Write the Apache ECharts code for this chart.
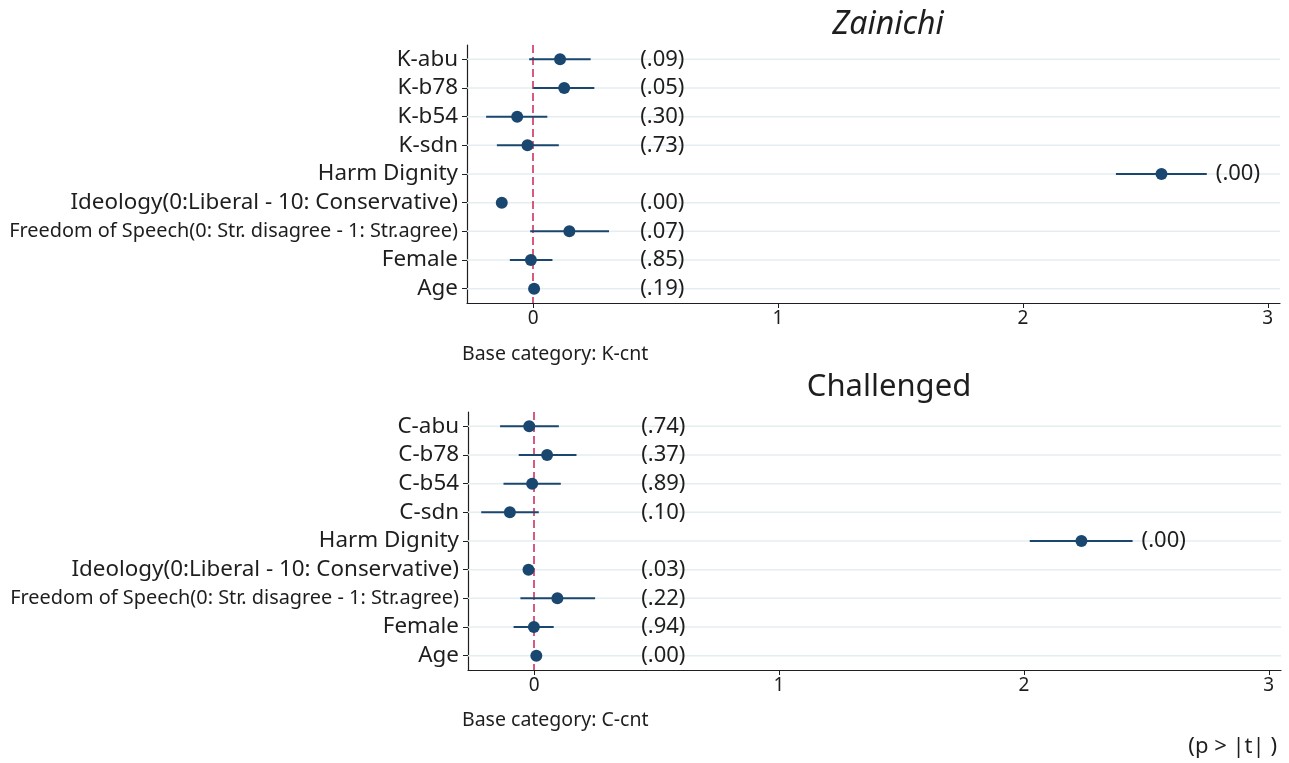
<!DOCTYPE html>
<html>
<head>
<meta charset="utf-8">
<script src="https://cdn.jsdelivr.net/npm/echarts@6/dist/echarts.min.js"></script>
<style>
  html, body { margin: 0; padding: 0; background: #fff; }
  #chart { width: 1289px; height: 763px; }
</style>
</head>
<body>
<div id="chart"></div>
<script>
// Coefficient estimates with 95% intervals and p-values, two models
const zainichiTerms = ['K-abu', 'K-b78', 'K-b54', 'K-sdn', 'Harm Dignity',
  'Ideology(0:Liberal - 10: Conservative)', 'Freedom of Speech(0: Str. disagree - 1: Str.agree)', 'Female', 'Age'];
const zainichiCoef = [0.110, 0.127, -0.065, -0.023, 2.566, -0.128, 0.148, -0.009, 0.004];
const zainichiLow  = [-0.016, 0.001, -0.192, -0.148, 2.380, -0.140, -0.012, -0.095, -0.002];
const zainichiHigh = [0.235, 0.250, 0.058, 0.105, 2.751, -0.116, 0.310, 0.079, 0.010];
const zainichiP    = ['(.09)', '(.05)', '(.30)', '(.73)', '(.00)', '(.00)', '(.07)', '(.85)', '(.19)'];

const challengedTerms = ['C-abu', 'C-b78', 'C-b54', 'C-sdn', 'Harm Dignity',
  'Ideology(0:Liberal - 10: Conservative)', 'Freedom of Speech(0: Str. disagree - 1: Str.agree)', 'Female', 'Age'];
const challengedCoef = [-0.020, 0.053, -0.008, -0.099, 2.235, -0.023, 0.095, -0.001, 0.009];
const challengedLow  = [-0.139, -0.063, -0.125, -0.216, 2.024, -0.033, -0.056, -0.084, 0.005];
const challengedHigh = [0.101, 0.173, 0.109, 0.019, 2.444, -0.013, 0.249, 0.080, 0.013];
const challengedP    = ['(.74)', '(.37)', '(.89)', '(.10)', '(.00)', '(.03)', '(.22)', '(.94)', '(.00)'];

const xTicks = [0, 1, 2, 3];
const pLabelX = 0.437;   // default column for the p-value labels

const FONT = 'Noto Sans';
const NAVY = '#1a476f';
const GRIDLINE = '#e4eef1';
const ZERO = '#cc2455';
const INK = '#1e1e1e';

function panel(idx, terms, coef, low, high, pvals) {
  const rows = terms.map((t, i) => [coef[i], i, low[i], high[i], pvals[i]]);
  return [
    // horizontal guide lines at each row, plus the dashed zero reference
    {
      type: 'custom', xAxisIndex: idx, yAxisIndex: idx, z: 1, silent: true,
      data: rows,
      renderItem(params, api) {
        const cs = params.coordSys;
        const y = api.coord([0, api.value(1)])[1];
        return { type: 'line', shape: { x1: cs.x, y1: y, x2: cs.x + cs.width, y2: y },
          style: { stroke: GRIDLINE, lineWidth: 1.5 } };
      },
      markLine: {
        silent: true, symbol: 'none', z: 3,
        label: { show: false },
        lineStyle: { color: ZERO, type: [8, 4], width: 1.5 },
        data: [{ xAxis: 0 }]
      }
    },
    // confidence intervals
    {
      type: 'custom', xAxisIndex: idx, yAxisIndex: idx, z: 4, silent: true,
      data: rows,
      renderItem(params, api) {
        const a = api.coord([api.value(2), api.value(1)]);
        const b = api.coord([api.value(3), api.value(1)]);
        return { type: 'line', shape: { x1: a[0], y1: a[1], x2: b[0], y2: b[1] },
          style: { stroke: NAVY, lineWidth: 2 } };
      }
    },
    // point estimates
    {
      type: 'scatter', xAxisIndex: idx, yAxisIndex: idx, z: 5, silent: true,
      symbol: 'circle', symbolSize: 12,
      itemStyle: { color: NAVY, opacity: 1 },
      data: rows.map(r => [r[0], r[1]])
    },
    // p-value labels
    {
      type: 'custom', xAxisIndex: idx, yAxisIndex: idx, z: 6, silent: true,
      data: rows,
      renderItem(params, api) {
        const i = params.dataIndex;
        const y = api.coord([0, api.value(1)])[1];
        const base = api.coord([pLabelX, api.value(1)])[0];
        const hiX = api.coord([api.value(3), api.value(1)])[0] + 9;
        return { type: 'text', x: Math.max(base, hiX), y: y,
          style: { text: rows[i][4], fontFamily: FONT, fontSize: 22, fill: INK,
            verticalAlign: 'middle', align: 'left' } };
      }
    }
  ];
}

function xAxis(idx) {
  return {
    type: 'value', gridIndex: idx, min: -0.27, max: 3.05,
    splitLine: { show: false },
    axisLine: { show: true, onZero: false, lineStyle: { color: INK, width: 1.2 } },
    axisTick: { show: true, length: 5, lineStyle: { color: INK },
      customValues: xTicks },
    axisLabel: { fontFamily: FONT, fontSize: 19, color: INK, margin: 6,
      customValues: xTicks, showMinLabel: true, showMaxLabel: true,
      formatter: v => String(v) }
  };
}

function yAxis(idx, terms) {
  return {
    type: 'category', gridIndex: idx, data: terms, inverse: true,
    axisLine: { show: true, onZero: false, lineStyle: { color: INK, width: 1.2 } },
    axisTick: { show: true, alignWithLabel: true, length: 5, lineStyle: { color: INK } },
    splitLine: { show: false },
    axisLabel: {
      fontFamily: FONT, fontSize: 22.4, color: INK, margin: 9, interval: 0,
      formatter: v => v.startsWith('Freedom') ? '{s|' + v + '}' : v,
      rich: { s: { fontFamily: FONT, fontSize: 19.9, color: INK } }
    }
  };
}

const chart = echarts.init(document.getElementById('chart'), null, { renderer: 'canvas' });
chart.setOption({
  backgroundColor: '#fff',
  animation: false,
  grid: [
    { left: 467, top: 45, width: 813, height: 258, containLabel: false },
    { left: 468, top: 412, width: 813, height: 258, containLabel: false }
  ],
  xAxis: [xAxis(0), xAxis(1)],
  yAxis: [yAxis(0, zainichiTerms), yAxis(1, challengedTerms)],
  series: [
    ...panel(0, zainichiTerms, zainichiCoef, zainichiLow, zainichiHigh, zainichiP),
    ...panel(1, challengedTerms, challengedCoef, challengedLow, challengedHigh, challengedP)
  ],
  graphic: [
    { type: 'text', x: 888, y: 25, style: { text: 'Zainichi', fontFamily: FONT,
      fontSize: 32, fontStyle: 'italic', fill: INK, align: 'center', verticalAlign: 'middle' } },
    { type: 'text', x: 889, y: 387, style: { text: 'Challenged', fontFamily: FONT,
      fontSize: 31, fill: INK, align: 'center', verticalAlign: 'middle' } },
    { type: 'text', x: 462, y: 354, style: { text: 'Base category: K-cnt', fontFamily: FONT,
      fontSize: 19.5, fill: INK, verticalAlign: 'middle' } },
    { type: 'text', x: 462, y: 720, style: { text: 'Base category: C-cnt', fontFamily: FONT,
      fontSize: 19.5, fill: INK, verticalAlign: 'middle' } },
    { type: 'text', x: 1277, y: 747, style: { text: '(p > |t| )', fontFamily: FONT,
      fontSize: 22, fill: INK, align: 'right', verticalAlign: 'middle' } }
  ]
});
</script>
</body>
</html>
